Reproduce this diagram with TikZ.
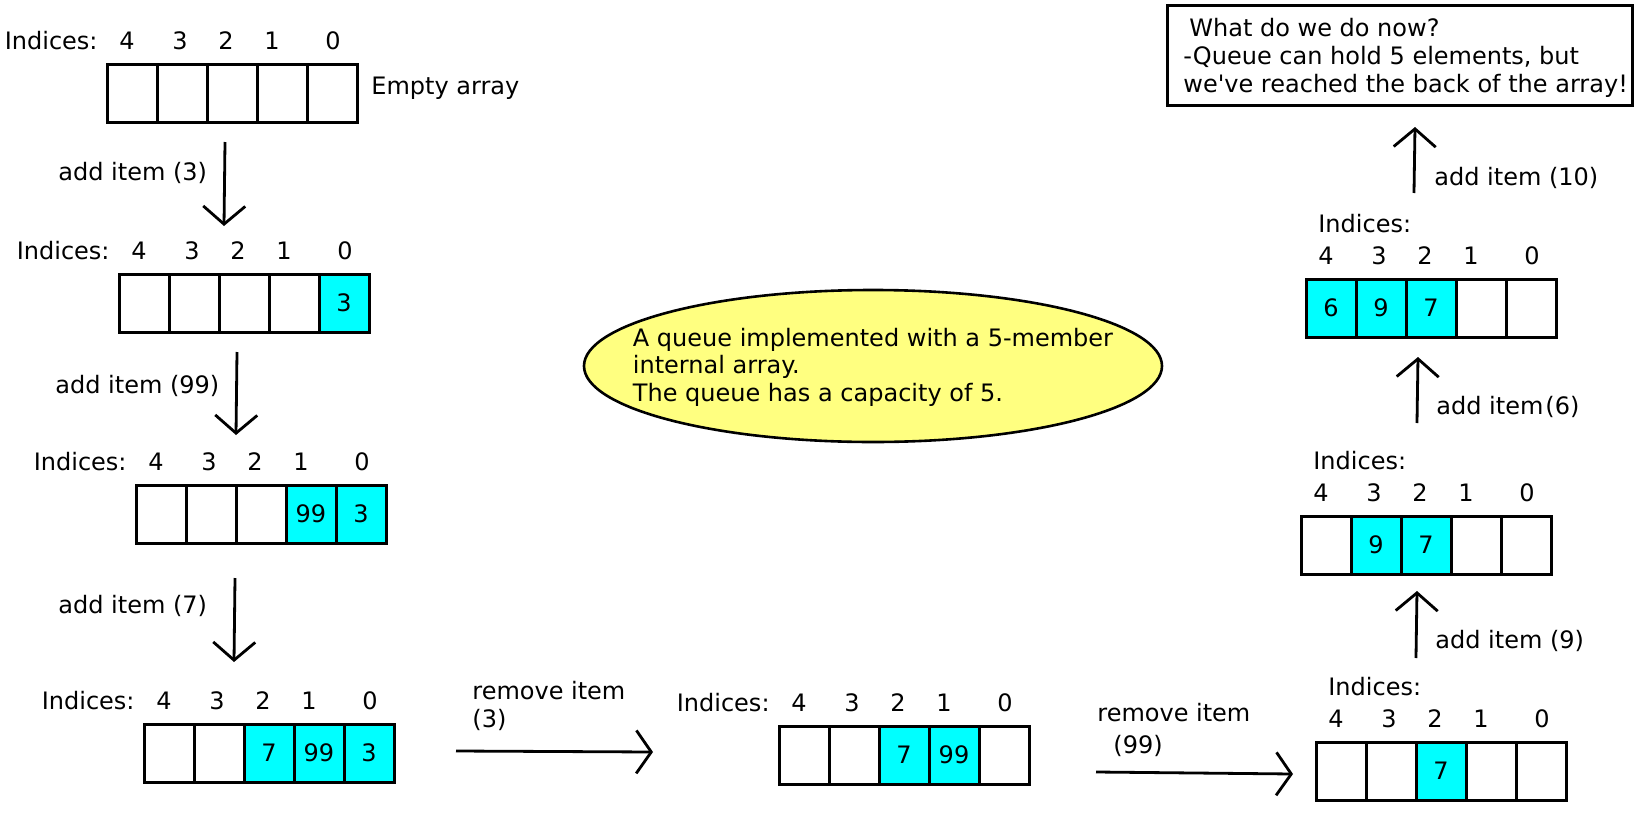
\documentclass[tikz,border=0pt]{standalone}
\usepackage{fontspec}
\setmainfont{DejaVu Sans}
\usetikzlibrary{arrows.meta,positioning,shapes.geometric}
\definecolor{slot}{HTML}{00FFFF}
\definecolor{bubble}{HTML}{FFFF80}
\newcommand{\qarray}[4]{%
  \foreach \val/\kind [count=\k from 0] in {#4} {
    \pgfmathtruncatemacro{\ix}{4-\k}
    \node[cell,\kind] (#1-c\ix) at (#2+50*\k+25,#3+29) {\val};
  }
  \foreach \n/\off in {4/20,3/73,2/119,1/165,0/226} {
    \node[idx] (#1-\n) at (#2+\off,#3-23) {\n};
  }
}

\begin{document}
\begin{tikzpicture}[x=0.5pt,y=-0.5pt,font=\fontsize{12}{14}\selectfont,
    cell/.style={draw,line width=1.5pt,minimum width=25pt,minimum height=29pt,inner sep=0pt},
    taken/.style={fill=slot},
    vacant/.style={fill=white},
    idx/.style={inner sep=0pt},
    lbl/.style={inner sep=0pt},
    addarrow/.style={line width=1.4pt,-{Straight Barb[length=9pt,width=21pt]}},
    movearrow/.style={line width=1.4pt,-{Straight Barb[length=7.5pt,width=21.5pt]}},
    infobubble/.style={ellipse,draw,line width=1.3pt,fill=bubble,minimum width=289pt,minimum height=76pt,inner sep=0pt},
    notebox/.style={draw,line width=1.5pt,minimum width=232.5pt,minimum height=50pt,inner sep=0pt}]
    \useasboundingbox (0,0) rectangle (1646,825);
    \qarray{q1}{107}{64}{/vacant,/vacant,/vacant,/vacant,/vacant}
    \qarray{q2}{119}{274}{/vacant,/vacant,/vacant,/vacant,3/taken}
    \qarray{q3}{136}{485}{/vacant,/vacant,/vacant,99/taken,3/taken}
    \qarray{q4}{144}{724}{/vacant,/vacant,7/taken,99/taken,3/taken}
    \qarray{q5}{779}{726}{/vacant,/vacant,7/taken,99/taken,/vacant}
    \qarray{q6}{1316}{742}{/vacant,/vacant,7/taken,/vacant,/vacant}
    \qarray{q7}{1301}{516}{/vacant,9/taken,7/taken,/vacant,/vacant}
    \qarray{q8}{1306}{279}{6/taken,9/taken,7/taken,/vacant,/vacant}
    \node[lbl,left=10.5pt of q1-4] (q1-lab) {Indices:};
    \node[lbl,left=10.5pt of q2-4] (q2-lab) {Indices:};
    \node[lbl,left=10.5pt of q3-4] (q3-lab) {Indices:};
    \node[lbl,left=10.5pt of q4-4] (q4-lab) {Indices:};
    \node[lbl,left=10.5pt of q5-4] (q5-lab) {Indices:};
    \node[lbl,above=7pt of q6-4.north west,anchor=south west] (q6-lab) {Indices:};
    \node[lbl,above=7pt of q7-4.north west,anchor=south west] (q7-lab) {Indices:};
    \node[lbl,above=7pt of q8-4.north west,anchor=south west] (q8-lab) {Indices:};
    \node[lbl,anchor=west] (empty) at (371,88) {Empty array};
    \coordinate (s1) at (225,142); \coordinate (e1) at (224,226);
    \coordinate (s2) at (237,352); \coordinate (e2) at (236,435);
    \coordinate (s3) at (235,578); \coordinate (e3) at (234,662);
    \coordinate (s4) at (456,751); \coordinate (e4) at (653,752);
    \coordinate (s5) at (1096,772); \coordinate (e5) at (1293,774);
    \coordinate (s6) at (1416,658); \coordinate (e6) at (1417,591);
    \coordinate (s7) at (1417,423); \coordinate (e7) at (1418,357);
    \coordinate (s8) at (1414,193); \coordinate (e8) at (1415,127);
    \draw[addarrow] (s1) -- (e1);
    \draw[addarrow] (s2) -- (e2);
    \draw[addarrow] (s3) -- (e3);
    \draw[movearrow] (s4) -- (e4);
    \draw[movearrow] (s5) -- (e5);
    \draw[addarrow] (s6) -- (e6);
    \draw[addarrow] (s7) -- (e7);
    \draw[addarrow] (s8) -- (e8);
    \node[lbl,anchor=west] (t1) at (58,173) {add item (3)};
    \node[lbl,anchor=west] (t2) at (55,386) {add item (99)};
    \node[lbl,anchor=west] (t3) at (58,606) {add item (7)};
    \node[lbl,anchor=west,align=left] (t4) at (472,706) {remove item\\(3)};
    \node[lbl,anchor=west,align=left] (t5) at (1097,730) {remove item\\[2pt]\hspace{8pt}(99)};
    \node[lbl,anchor=west] (t6) at (1435,641) {add item (9)};
    \node[lbl,anchor=west] (t7) at (1436,407) {add item\hspace{1pt}(6)};
    \node[lbl,anchor=west] (t8) at (1434,178) {add item (10)};
    \node[infobubble] (info) at (873,366) {};
    \node[lbl,align=left,font=\fontsize{12}{13.75}\selectfont] (infotxt) at (873,367) {A queue implemented with a 5-member\\internal array.\\The queue has a capacity of 5.};
    \node[notebox] (note) at (1399.5,55) {};
    \node[lbl,anchor=west,align=left] (notetxt) at (1183,58) {\hspace{3pt}What do we do now?\\-Queue can hold 5 elements, but\\we\textquotesingle ve reached the back of the array!};
\end{tikzpicture}
\end{document}
